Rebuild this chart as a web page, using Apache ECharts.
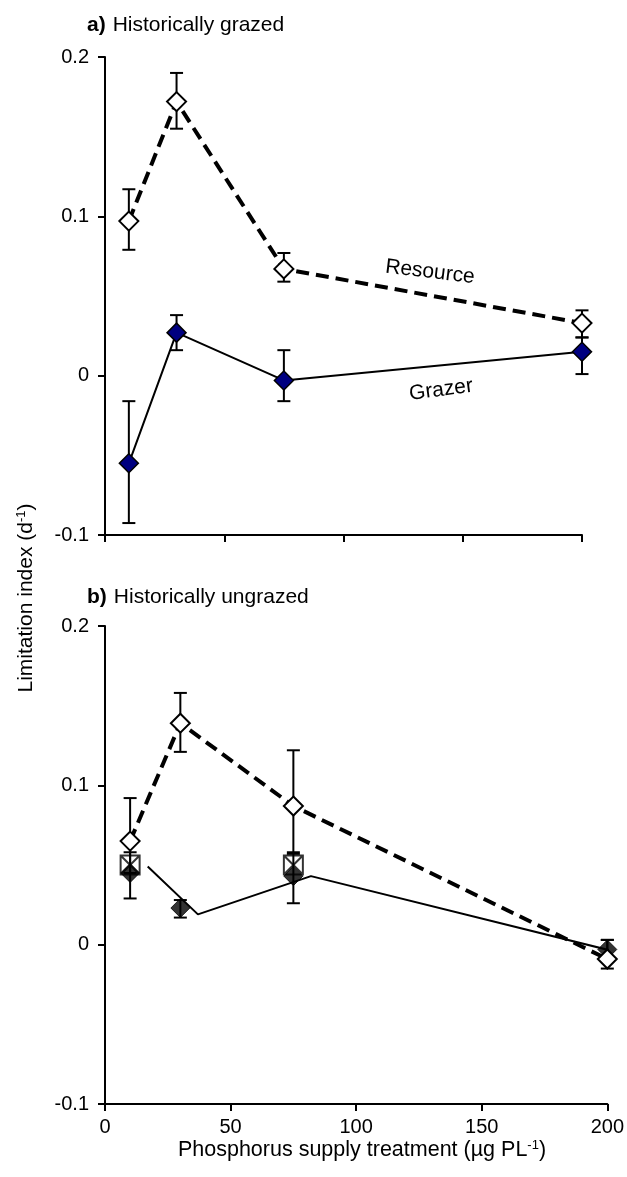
<!DOCTYPE html>
<html>
<head>
<meta charset="utf-8">
<script src="https://cdn.jsdelivr.net/npm/echarts@6/dist/echarts.min.js"></script>
<style>
html, body { margin: 0; padding: 0; background: #fff; }
#chart { width: 627px; height: 1177px; }
</style>
</head>
<body>
<div id="chart"></div>
<script>
// P supply treatments (ug P/L)
const treatments = [10, 30, 75, 200]
const xTicks = [0, 50, 100, 150, 200]
const yTickLabels = ['-0.1', '0', '0.1', '0.2']

// a) historically grazed
const aResource = [0.097, 0.172, 0.067, 0.033]
const aResourceHi = [0.117, 0.19, 0.077, 0.041]
const aResourceLo = [0.079, 0.155, 0.059, 0.024]
const aGrazer = [-0.055, 0.027, -0.003, 0.015]
const aGrazerHi = [-0.016, 0.038, 0.016, 0.024]
const aGrazerLo = [-0.0925, 0.016, -0.016, 0.001]

// b) historically ungrazed
const bResource = [0.065, 0.139, 0.087, -0.009]
const bResourceHi = [0.092, 0.158, 0.122, 0.003]
const bResourceLo = [0.045, 0.121, 0.058, -0.015]
const bGrazer = [0.045, 0.023, 0.043, -0.003]
const bGrazerHi = [0.058, 0.028, 0.057, 0.003]
const bGrazerLo = [0.029, 0.017, 0.026, -0.009]
const bSquareX = [10, 75]
const bSquare = [0.05, 0.05]
const bTrendX = [17, 37, 82, 206]
const bTrend = [0.049, 0.019, 0.043, -0.0055]

const font = '"Liberation Sans", Arial, Helvetica, sans-serif'
const black = '#000'

const chart = echarts.init(document.getElementById('chart'))

const axisLine = { show: true, onZero: false, lineStyle: { color: black, width: 2 } }
const axisTick = { show: true, inside: false, length: 7, lineStyle: { color: black, width: 2 } }

const makeX = (idx, showLabels) => ({
  type: 'value',
  gridIndex: idx,
  min: xTicks[0],
  max: xTicks[xTicks.length - 1],
  interval: 50,
  axisLine,
  axisTick,
  splitLine: { show: false },
  axisLabel: {
    show: showLabels,
    color: black,
    fontFamily: font,
    fontSize: 20,
    margin: 13
  }
})

const makeY = (idx) => ({
  type: 'value',
  gridIndex: idx,
  min: -0.1,
  max: 0.2,
  interval: 0.1,
  axisLine,
  axisTick,
  splitLine: { show: false },
  axisLabel: {
    color: black,
    fontFamily: font,
    fontSize: 20,
    margin: 16,
    formatter: (v, i) => yTickLabels[i]
  }
})

const pairs = (xs, ys) => xs.map((x, i) => [x, ys[i]])

const errorBars = (idx, lo, hi) => ({
  type: 'custom',
  xAxisIndex: idx,
  yAxisIndex: idx,
  z: 1,
  silent: true,
  data: treatments.map((x, i) => [x, lo[i], hi[i]]),
  renderItem: (params, api) => {
    const top = api.coord([api.value(0), api.value(2)])
    const bot = api.coord([api.value(0), api.value(1)])
    const hw = 6.5
    const st = { stroke: black, lineWidth: 2 }
    return {
      type: 'group',
      children: [
        { type: 'line', shape: { x1: top[0], y1: top[1], x2: bot[0], y2: bot[1] }, style: st },
        { type: 'line', shape: { x1: top[0] - hw, y1: top[1], x2: top[0] + hw, y2: top[1] }, style: st },
        { type: 'line', shape: { x1: bot[0] - hw, y1: bot[1], x2: bot[0] + hw, y2: bot[1] }, style: st }
      ]
    }
  }
})

const openDiamond = { color: '#fff', borderColor: black, borderWidth: 2 }

const titleRich = {
  b: { fontFamily: font, fontSize: 21, fontWeight: 'bold', fill: black, padding: [0, 7, 0, 0] },
  n: { fontFamily: font, fontSize: 21, fill: black }
}

const option = {
  animation: false,
  backgroundColor: '#fff',
  grid: [
    { left: 105, right: 45, top: 57, height: 478 },
    { left: 105, right: 19, top: 626, height: 478 }
  ],
  xAxis: [makeX(0, false), makeX(1, true)],
  yAxis: [makeY(0), makeY(1)],
  series: [
    errorBars(0, aResourceLo, aResourceHi),
    errorBars(0, aGrazerLo, aGrazerHi),
    errorBars(1, bResourceLo, bResourceHi),
    errorBars(1, bGrazerLo, bGrazerHi),
    {
      name: 'Resource a',
      type: 'line',
      xAxisIndex: 0,
      yAxisIndex: 0,
      z: 3,
      data: pairs(treatments, aResource),
      symbol: 'diamond',
      symbolSize: 19,
      itemStyle: openDiamond,
      lineStyle: { color: black, width: 4, type: [13, 7] }
    },
    {
      name: 'Grazer a',
      type: 'line',
      xAxisIndex: 0,
      yAxisIndex: 0,
      z: 3,
      data: pairs(treatments, aGrazer),
      symbol: 'diamond',
      symbolSize: 19,
      itemStyle: { color: '#000080', borderColor: black, borderWidth: 1.5 },
      lineStyle: { color: black, width: 2 }
    },
    {
      name: 'Grazer trend b',
      type: 'line',
      xAxisIndex: 1,
      yAxisIndex: 1,
      z: 2,
      clip: false,
      data: pairs(bTrendX, bTrend),
      symbol: 'none',
      lineStyle: { color: black, width: 2 }
    },
    {
      name: 'Squares b',
      type: 'scatter',
      xAxisIndex: 1,
      yAxisIndex: 1,
      z: 3,
      data: pairs(bSquareX, bSquare),
      symbol: 'path://M0,0H10V10H0Z M0,0L10,10 M10,0L0,10',
      symbolSize: 19,
      itemStyle: { color: 'rgba(0,0,0,0)', borderColor: black, borderWidth: 2 }
    },
    {
      name: 'Grazer b',
      type: 'scatter',
      xAxisIndex: 1,
      yAxisIndex: 1,
      z: 4,
      data: pairs(treatments, bGrazer),
      symbol: 'diamond',
      symbolSize: 19,
      itemStyle: { color: black, borderColor: black, borderWidth: 1 }
    },
    {
      name: 'Resource b',
      type: 'line',
      xAxisIndex: 1,
      yAxisIndex: 1,
      z: 5,
      data: pairs(treatments, bResource),
      symbol: 'diamond',
      symbolSize: 19,
      itemStyle: openDiamond,
      lineStyle: { color: black, width: 4, type: [13, 7] }
    }
  ],
  graphic: [
    {
      type: 'text',
      x: 87,
      y: 25,
      style: { text: '{b|a)}{n|Historically grazed}', verticalAlign: 'middle', rich: titleRich }
    },
    {
      type: 'text',
      x: 87,
      y: 597,
      style: { text: '{b|b)}{n|Historically ungrazed}', verticalAlign: 'middle', rich: titleRich }
    },
    {
      type: 'text',
      x: 26,
      y: 598,
      rotation: Math.PI / 2,
      style: {
        text: '{n|Limitation index (d}{s|-1}{n|)}',
        align: 'center',
        verticalAlign: 'middle',
        rich: {
          n: { fontFamily: font, fontSize: 21, fill: black, lineHeight: 23 },
          s: { fontFamily: font, fontSize: 13, fill: black, verticalAlign: 'top', lineHeight: 23 }
        }
      }
    },
    {
      type: 'text',
      x: 362,
      y: 1150,
      style: {
        text: '{n|Phosphorus supply treatment (µg PL}{s|-1}{n|)}',
        align: 'center',
        verticalAlign: 'middle',
        rich: {
          n: { fontFamily: font, fontSize: 21.5, fill: black, lineHeight: 23 },
          s: { fontFamily: font, fontSize: 13, fill: black, verticalAlign: 'top', lineHeight: 23 }
        }
      }
    },
    {
      type: 'text',
      x: 430,
      y: 272,
      rotation: -0.12,
      style: { text: 'Resource', font: '21px ' + font, fill: black, align: 'center', verticalAlign: 'middle' }
    },
    {
      type: 'text',
      x: 441,
      y: 390,
      rotation: 0.13,
      style: { text: 'Grazer', font: '21px ' + font, fill: black, align: 'center', verticalAlign: 'middle' }
    }
  ]
}

chart.setOption(option)
window.addEventListener('resize', () => chart.resize())
</script>
</body>
</html>
